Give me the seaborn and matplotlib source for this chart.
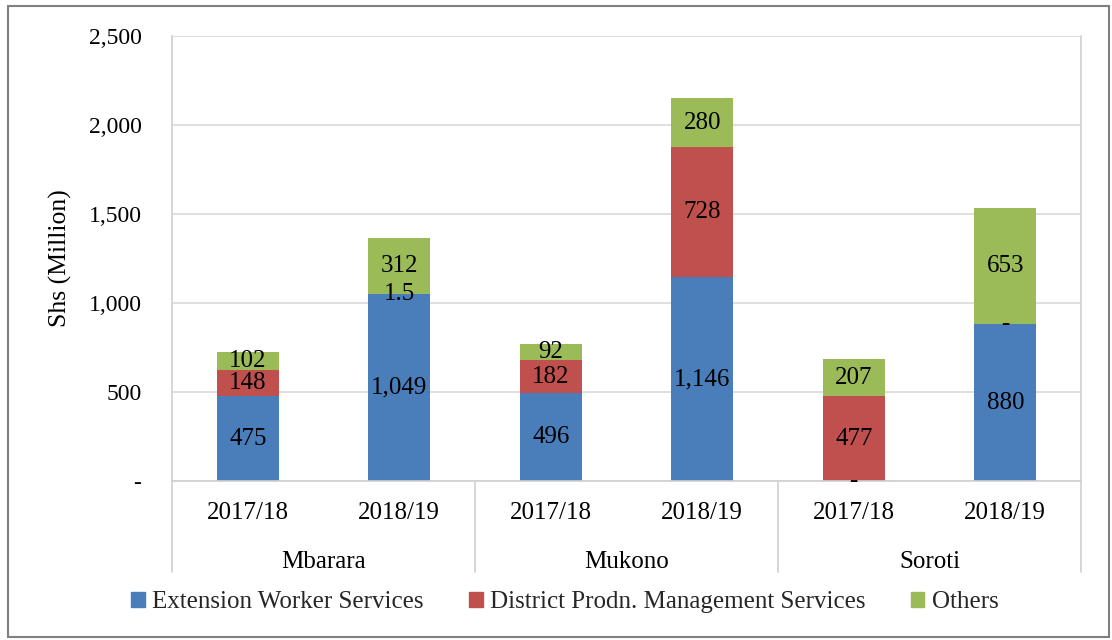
import matplotlib
matplotlib.use("Agg")
import matplotlib.pyplot as plt
import matplotlib.patches as mpatches
import matplotlib.transforms as mtransforms
import seaborn as sns
import pandas as pd
import numpy as np

districts = ["Mbarara", "Mukono", "Soroti"]
years = ["2017/18", "2018/19"]
extension = [475, 1049, 496, 1146, 0, 880]
district_prodn = [148, 1.5, 182, 728, 477, 0]
others = [102, 312, 92, 280, 207, 653]
series_names = ["Extension Worker Services", "District Prodn. Management Services", "Others"]
colors = ["#4A7EBB", "#C0504D", "#9BBB59"]
yticks = [0, 500, 1000, 1500, 2000, 2500]
ytick_labels = ["-", "500", "1,000", "1,500", "2,000", "2,500"]

sns.set_theme(style="white")
plt.rcParams["font.family"] = ["Liberation Serif", "DejaVu Serif"]

cats = [f"{d}\n{y}" for d in districts for y in years]
df = pd.DataFrame({"cat": cats, "ext": extension, "dpm": district_prodn, "oth": others})

fig = plt.figure(figsize=(11.12, 6.4), dpi=100)
ax = fig.add_axes([172/1112, 1-481/640, (1081-172)/1112, (481-36)/640])

bottom1 = np.array(extension, dtype=float)
bottom2 = bottom1 + np.array(district_prodn, dtype=float)
layers = [("ext", None), ("dpm", bottom1), ("oth", bottom2)]
for (col, bot), c, name in zip(layers, colors, series_names):
    kw = {} if bot is None else {"bottom": bot}
    sns.barplot(data=df, x="cat", y=col, order=cats, color=c, saturation=1,
                width=0.41, ax=ax, label=name, linewidth=0, **kw)

def fmt(v):
    if v == 0:
        return "-"
    if float(v).is_integer():
        return f"{int(v):,}"
    return f"{v:g}"

for cont, vals in zip(ax.containers, [extension, district_prodn, others]):
    ax.bar_label(cont, labels=[fmt(v) for v in vals], label_type="center",
                 fontsize=18, color="black")

ax.set_ylim(0, 2500)
ax.set_xlim(-0.5, 5.5)
ax.set_yticks(yticks)
ax.set_yticklabels(ytick_labels)
ax.set_xticks(range(6))
ax.set_xticklabels(years * 3)
ax.tick_params(axis="both", length=0, colors="black")
ax.tick_params(axis="y", pad=22, labelsize=17)
ax.tick_params(axis="x", pad=15, labelsize=18)
ax.set_xlabel("")
ax.set_ylabel("Shs (Million)", fontsize=18.5, color="black")
ax.yaxis.set_label_coords(-0.110, 0.5)
ax.grid(axis="y", color="#D9D9D9", linewidth=1.2)
ax.set_axisbelow(True)
ax.spines["top"].set_visible(False)
for s in ["left", "right", "bottom"]:
    ax.spines[s].set_color("#D0D0D0")
    ax.spines[s].set_linewidth(1.2)
if ax.get_legend():
    ax.get_legend().remove()

trans = mtransforms.blended_transform_factory(ax.transAxes, ax.transAxes)
for xs in [0, 1/3, 2/3, 1]:
    ax.plot([xs, xs], [0, -0.205], transform=trans, color="#D0D0D0",
            linewidth=1.2, clip_on=False)
for i, d in enumerate(districts):
    ax.text((2*i+1)/6, -0.182, d, transform=trans, ha="center", va="center",
            fontsize=18, color="black")

handles = [mpatches.Patch(color=c, label=n) for c, n in zip(colors, series_names)]
fig.legend(handles=handles, loc="center", bbox_to_anchor=(0.508, 0.0594), ncol=3,
           frameon=False, fontsize=18, handlelength=0.55, handleheight=0.55,
           handletextpad=0.3, columnspacing=1.8)

fig.patches.append(mpatches.Rectangle((8/1112, 1-637/640), (1109-8)/1112, (637-6)/640,
                                      transform=fig.transFigure, fill=False,
                                      edgecolor="#7F7F7F", linewidth=1.5))

fig.savefig("out.png", dpi=100, facecolor="white")
